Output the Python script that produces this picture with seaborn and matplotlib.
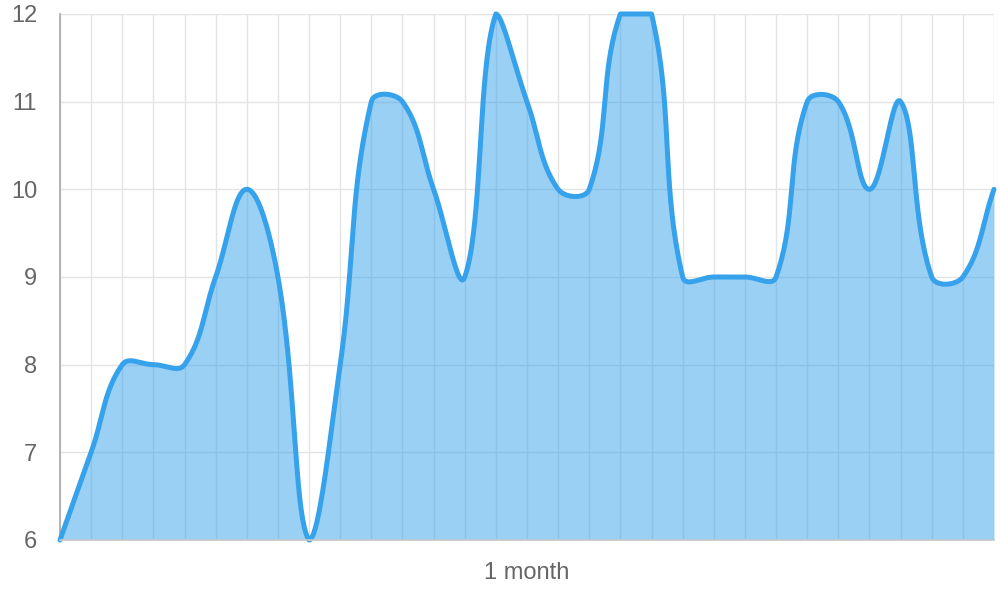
import numpy as np
import matplotlib
matplotlib.use("Agg")
import matplotlib.pyplot as plt
import seaborn as sns

# ---- data ----
values = [6, 7, 8, 8, 8, 9, 10, 9, 6, 8, 11, 11, 10, 9, 12, 11, 10, 10, 12, 12,
          9, 9, 9, 9, 11, 11, 10, 11, 9, 9, 10]
x_labels = [""] * 15 + ["1 month"] + [""] * 15
y_ticks = [6, 7, 8, 9, 10, 11, 12]

LINE = "#36a2eb"
FILL = (54 / 255, 162 / 255, 235 / 255, 0.5)
GRID = "#e4e4e4"
TEXT = "#666666"


def chartjs_curve(ys, sx, sy, ymin, ymax, tension=0.4, n=40):
    """Chart.js style spline (tension Bezier, control points capped to the area)."""
    X = np.arange(len(ys), dtype=float) * sx
    Y = np.asarray(ys, dtype=float) * sy
    m = len(X)
    pc, nc = [], []
    for i in range(m):
        px, py = X[i], Y[i]
        ax_, ay_ = (X[i - 1], Y[i - 1]) if i > 0 else (px, py)
        bx_, by_ = (X[i + 1], Y[i + 1]) if i < m - 1 else (px, py)
        d01 = np.hypot(px - ax_, py - ay_)
        d12 = np.hypot(bx_ - px, by_ - py)
        tot = d01 + d12
        s01 = d01 / tot if tot else 0.0
        s12 = d12 / tot if tot else 0.0
        fa, fb = tension * s01, tension * s12
        p1 = [px - fa * (bx_ - ax_), py - fa * (by_ - ay_)]
        p2 = [px + fb * (bx_ - ax_), py + fb * (by_ - ay_)]
        for c in (p1, p2):
            c[0] = min(max(c[0], X[0]), X[-1])
            c[1] = min(max(c[1], ymin * sy), ymax * sy)
        pc.append(p1)
        nc.append(p2)
    t = np.linspace(0, 1, n)[:, None]
    pts = []
    for i in range(m - 1):
        P0 = np.array([X[i], Y[i]])
        P1 = np.array(nc[i])
        P2 = np.array(pc[i + 1])
        P3 = np.array([X[i + 1], Y[i + 1]])
        seg = ((1 - t) ** 3) * P0 + 3 * ((1 - t) ** 2) * t * P1 + 3 * (1 - t) * t ** 2 * P2 + t ** 3 * P3
        pts.append(seg if i == 0 else seg[1:])
    pts = np.vstack(pts)
    return pts[:, 0] / sx, pts[:, 1] / sy


sns.set_theme(style="white")
plt.rcParams["font.family"] = ["Liberation Sans", "DejaVu Sans"]

fig = plt.figure(figsize=(10, 6), dpi=100)
ax = fig.add_axes([0.060, 0.100, 0.934, 0.8767])

n = len(values)
sx = 933 / (n - 1)
sy = 526 / 6
cx, cy = chartjs_curve(values, sx, sy, min(y_ticks), max(y_ticks))

ax.fill_between(cx, cy, min(y_ticks), color=FILL, lw=0, zorder=2)
sns.lineplot(x=cx, y=cy, ax=ax, color=LINE, lw=3.6, sort=False, estimator=None,
             zorder=3, clip_on=False)

ax.set_xlim(0, n - 1)
ax.set_ylim(min(y_ticks), max(y_ticks))
ax.set_xticks(range(n))
ax.set_xticklabels(x_labels)
ax.set_yticks(y_ticks)
ax.set_yticklabels([str(v) for v in y_ticks])

ax.set_axisbelow(True)
ax.grid(True, color=GRID, lw=1, alpha=1)
ax.tick_params(axis="x", length=12.5, width=1, color=GRID, pad=3, labelsize=17, labelcolor=TEXT)
ax.tick_params(axis="y", length=14.4, width=1, color=GRID, pad=2, labelsize=17, labelcolor=TEXT)

for s in ("top", "right"):
    ax.spines[s].set_visible(False)
ax.spines["left"].set_color("#a8a8a8")
ax.spines["left"].set_linewidth(1.2)
ax.spines["bottom"].set_color("#c8c8c8")
ax.spines["bottom"].set_linewidth(1.2)
ax.spines["bottom"].set_zorder(4)
ax.set_xlabel("")
ax.set_ylabel("")

fig.savefig("out.png", dpi=100, facecolor="white")
